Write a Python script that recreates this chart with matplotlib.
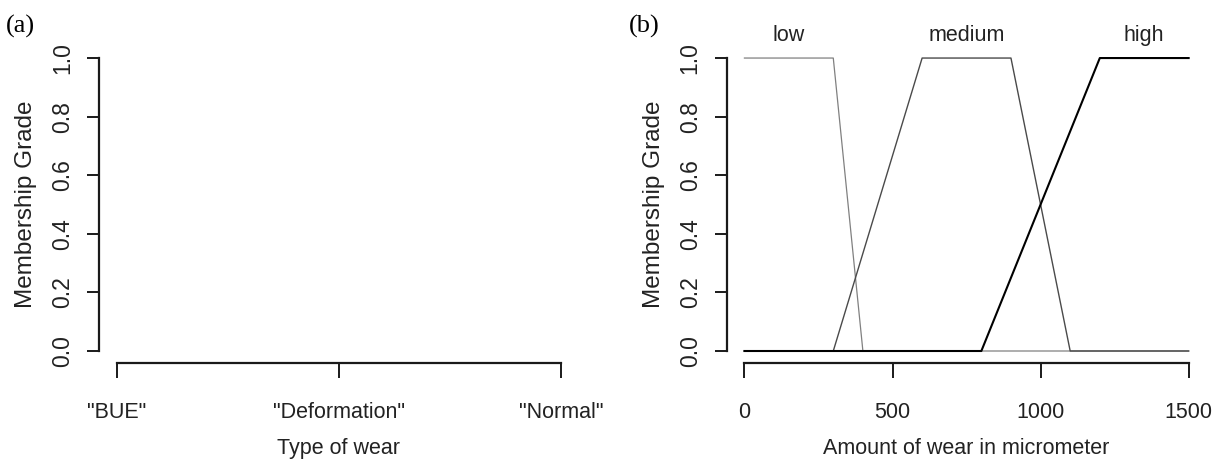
import matplotlib
matplotlib.use("Agg")
import matplotlib.pyplot as plt
from matplotlib import font_manager

# panel (a): categorical variable, no membership curves drawn
wear_types = ['"BUE"', '"Deformation"', '"Normal"']

# panel (b): trapezoidal membership functions (x breakpoints, grades)
low_x = [0, 300, 400, 1500]
low_y = [1, 1, 0, 0]
medium_x = [0, 300, 600, 900, 1100, 1500]
medium_y = [0, 0, 1, 1, 0, 0]
high_x = [0, 800, 1200, 1500]
high_y = [0, 0, 1, 1]
set_names = ["low", "medium", "high"]
set_centres = [150, 750, 1350]
x_ticks = [0, 500, 1000, 1500]
y_ticks = [0.0, 0.2, 0.4, 0.6, 0.8, 1.0]

installed = {f.name for f in font_manager.fontManager.ttflist}
if "Liberation Sans Narrow" in installed:
    narrow, nsize = "Liberation Sans Narrow", 17.5
else:
    narrow, nsize = "Liberation Sans", 15.5
plt.rcParams["font.family"] = ["Liberation Sans", "DejaVu Sans"]

fig = plt.figure(figsize=(12.17, 4.67), dpi=100)
ax_a = fig.add_axes([0.0813, 0.2233, 0.3943, 0.6775])
ax_b = fig.add_axes([0.5971, 0.2233, 0.3942, 0.6775])


def r_style(ax, xmin, xmax, xlabel):
    for side in ("top", "right"):
        ax.spines[side].set_visible(False)
    for side in ("left", "bottom"):
        ax.spines[side].set_linewidth(1.6)
        ax.spines[side].set_color("#1a1a1a")
    ax.spines["left"].set_bounds(0, 1)
    ax.spines["bottom"].set_bounds(xmin, xmax)
    ax.set_ylim(-0.04, 1.04)
    ax.set_yticks(y_ticks)
    ax.set_yticklabels([f"{v:.1f}" for v in y_ticks], rotation=90, va="center",
                       fontsize=16.5, color="#222")
    ax.tick_params(axis="y", length=9, width=1.4, pad=9, color="#1a1a1a")
    ax.tick_params(axis="x", length=11, width=1.4, pad=17, color="#1a1a1a")
    for lab in ax.get_xticklabels():
        lab.set_fontfamily(narrow)
        lab.set_fontsize(nsize)
        lab.set_color("#222")
    ax.set_ylabel("Membership Grade", fontsize=17.5, labelpad=10, color="#222")
    ax.set_xlabel(xlabel, fontfamily=narrow, fontsize=nsize, labelpad=11, color="#222")


ax_a.set_xlim(0.92, 3.08)
ax_a.set_xticks([1, 2, 3])
ax_a.set_xticklabels(wear_types)
r_style(ax_a, 1, 3, "Type of wear")

ax_b.plot(low_x, low_y, color="#808080", lw=0.9)
ax_b.plot(medium_x, medium_y, color="#4a4a4a", lw=1.0)
ax_b.plot(high_x, high_y, color="black", lw=1.5)
for name, cx in zip(set_names, set_centres):
    ax_b.text(cx, 1.078, name, ha="center", va="center", fontfamily=narrow,
              fontsize=nsize, color="#222", clip_on=False)
ax_b.set_xlim(-60, 1560)
ax_b.set_xticks(x_ticks)
ax_b.set_xticklabels([str(v) for v in x_ticks])
r_style(ax_b, 0, 1500, "Amount of wear in micrometer")

fig.text(20 / 1217, 1 - 26 / 467, "(a)", family="Liberation Serif", fontsize=19,
         ha="center", va="center")
fig.text(644 / 1217, 1 - 26 / 467, "(b)", family="Liberation Serif", fontsize=19,
         ha="center", va="center")

fig.savefig("out.png", dpi=100)
